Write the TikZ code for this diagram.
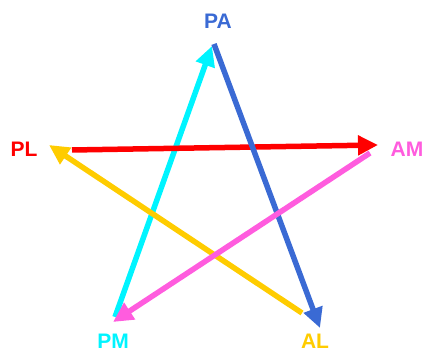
\documentclass[tikz,border=0pt]{standalone}
\usepackage{fontspec}
\setmainfont{Liberation Sans}
\usepackage{xcolor}
\usetikzlibrary{arrows.meta}
\definecolor{starblue}{HTML}{3A6AD4}
\definecolor{starred}{HTML}{FF0000}
\definecolor{starmag}{HTML}{FF5CDE}
\definecolor{starcyan}{HTML}{00F4FF}
\definecolor{stargold}{HTML}{FFCC00}
\tikzset{
  lbl/.style={font=\fontsize{21}{24}\selectfont\bfseries, inner sep=0pt},
  ray/.style={line width=5.5pt, -{Triangle[length=20pt, width=19pt]}}
}

\begin{document}
\begin{tikzpicture}[x=1pt, y=-1pt]
  \useasboundingbox (0,0) rectangle (426,352);
  % labels at the five points
  \node[lbl, starblue] (pa) at (218,21) {PA};
  \node[lbl, starred]  (pl) at (24,149) {PL};
  \node[lbl, starmag]  (am) at (407,149) {AM};
  \node[lbl, starcyan] (pm) at (113,341) {PM};
  \node[lbl, stargold] (al) at (315,341) {AL};
  % ends of the rays
  \coordinate (pa-in)  at (212,46);
  \coordinate (pa-out) at (214,44);
  \coordinate (pl-in)  at (49,145);
  \coordinate (pl-out) at (72,150);
  \coordinate (am-in)  at (378,145);
  \coordinate (am-out) at (370,153);
  \coordinate (pm-in)  at (113,322);
  \coordinate (pm-out) at (115,317);
  \coordinate (al-in)  at (320,328);
  \coordinate (al-out) at (302,313);
  % the star, drawn in stacking order
  \draw[ray, starcyan] (pm-out) -- (pa-in);
  \draw[ray, starred]  (pl-out) -- (am-in);
  \draw[ray, starblue] (pa-out) -- (al-in);
  \draw[ray, stargold] (al-out) -- (pl-in);
  \draw[ray, starmag]  (am-out) -- (pm-in);
\end{tikzpicture}
\end{document}
